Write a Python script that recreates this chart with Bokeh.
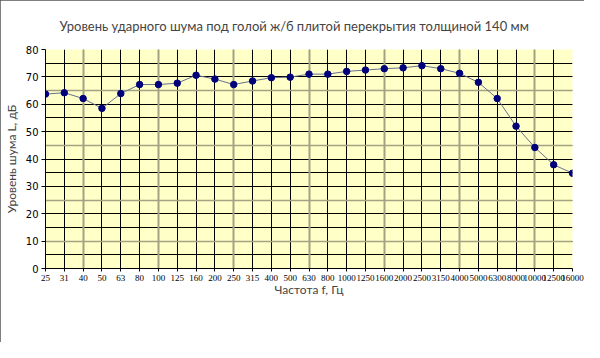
from bokeh.plotting import figure
from bokeh.models import Range1d, FixedTicker, Grid, SingleIntervalTicker, ColumnDataSource
from bokeh.embed import file_html
from bokeh.resources import INLINE

title_text = "Уровень ударного шума под голой ж/б плитой перекрытия толщиной 140 мм"
x_title = "Частота f, Гц"
y_title = "Уровень шума L, дБ"

freqs = ["25", "31", "40", "50", "63", "80", "100", "125", "160", "200", "250", "315",
         "400", "500", "630", "800", "1000", "1250", "1600", "2000", "2500", "3150",
         "4000", "5000", "6300", "8000", "10000", "12500", "16000"]
levels = [63.7, 64.2, 62.1, 58.5, 63.9, 67.2, 67.2, 67.7, 70.6, 69.2, 67.2, 68.5,
          69.7, 69.9, 71.0, 71.0, 72.0, 72.5, 73.0, 73.3, 74.1, 73.0, 71.3, 68.0,
          62.1, 52.0, 44.2, 37.9, 34.8]
y_min, y_max = 0, 80

idx = list(range(len(freqs)))
src = ColumnDataSource(dict(x=idx, y=levels, f=freqs))

p = figure(width=584, height=342, output_backend="svg", toolbar_location=None,
           x_range=Range1d(idx[0], idx[-1]), y_range=Range1d(y_min, y_max),
           min_border_left=41, min_border_right=12, min_border_top=49, min_border_bottom=74,
           background_fill_color="#FFFFC8", border_fill_color="white")
p.styles = {"outline": "2px solid #555555", "outline-offset": "-2px"}
p.outline_line_color = None

# title
p.title.text = title_text
p.title.text_font = "Lato"
p.title.text_font_size = "13px"
p.title.text_font_style = "normal"
p.title.align = "left"
p.title.offset = 14
p.title.standoff = 31

# x axis
p.xaxis.ticker = FixedTicker(ticks=idx)
p.xaxis.major_label_overrides = {i: f for i, f in zip(idx, freqs)}
p.xaxis.major_label_text_font = "Liberation Serif"
p.xaxis.major_label_text_font_size = "9px"
p.xaxis.major_label_text_color = "black"
p.xaxis.major_label_standoff = 3
p.xaxis.major_tick_out = 3
p.xaxis.major_tick_in = 0
p.xaxis.minor_tick_line_color = None
p.xaxis.axis_line_color = "black"
p.xaxis.major_tick_line_color = "black"
p.xaxis.axis_label = x_title
p.xaxis.axis_label_text_font = "Lato"
p.xaxis.axis_label_text_font_size = "12px"
p.xaxis.axis_label_text_font_style = "normal"
p.xaxis.axis_label_standoff = -2

# y axis
p.yaxis.ticker = SingleIntervalTicker(interval=10, num_minor_ticks=2)
p.yaxis.major_label_text_font = "DejaVu Sans"
p.yaxis.major_label_text_font_size = "10px"
p.yaxis.major_label_text_color = "black"
p.yaxis.major_label_standoff = 3
p.yaxis.major_tick_out = 4
p.yaxis.major_tick_in = 0
p.yaxis.minor_tick_line_color = None
p.yaxis.axis_line_color = "black"
p.yaxis.major_tick_line_color = "black"
p.yaxis.axis_label = y_title
p.yaxis.axis_label_text_font = "Lato"
p.yaxis.axis_label_text_font_size = "12px"
p.yaxis.axis_label_text_font_style = "normal"
p.yaxis.axis_label_standoff = 4

# grids
p.xgrid.ticker = FixedTicker(ticks=idx)
p.xgrid.grid_line_color = "black"
p.xgrid.grid_line_width = 1
p.ygrid.ticker = SingleIntervalTicker(interval=10, num_minor_ticks=2)
p.ygrid.grid_line_color = "black"
p.ygrid.minor_grid_line_color = "black"
p.ygrid.grid_line_width = 1

gray_v = Grid(dimension=0, ticker=FixedTicker(ticks=idx[2::4]),
              grid_line_color="#A3A383", grid_line_width=2)
gray_h = Grid(dimension=1, ticker=FixedTicker(ticks=[80, 65, 45, 25, 10]),
              grid_line_color="#A3A383", grid_line_width=1.5)
p.add_layout(gray_v)
p.add_layout(gray_h)

p.line("x", "y", source=src, line_color="#66708E", line_width=1)
p.scatter("x", "y", source=src, size=6.5, fill_color="#00007A", line_color="#00007A")

open("out.html", "w").write(file_html(p, INLINE))
